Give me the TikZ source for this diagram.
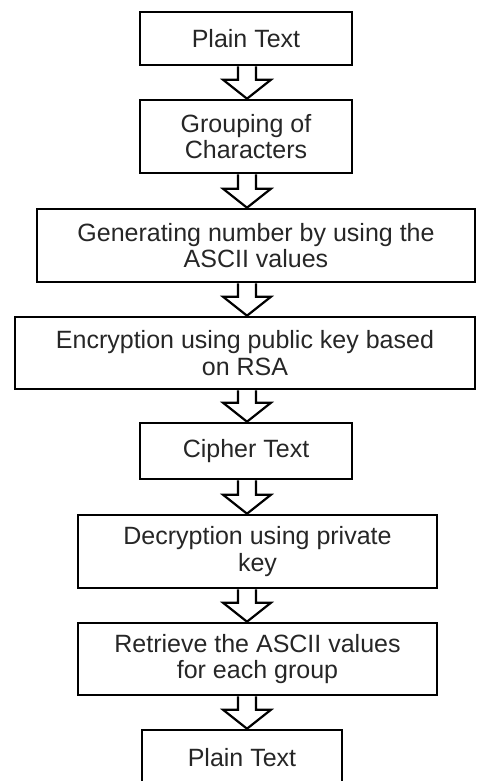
\documentclass[tikz,border=0pt]{standalone}
\usepackage{fontspec}
\setmainfont{Liberation Sans}
\usetikzlibrary{calc}
\tikzset{
  flowbox/.style={draw, line width=2.6pt, align=center, inner sep=0pt,
    text=black!85, font=\fontsize{25}{26.5}\selectfont},
  blockarrow/.style={draw, line width=2.2pt, fill=white, line join=miter,
    to path={let \p1=(\tikztostart), \p2=(\tikztotarget) in
      (\x1-9pt,\y1) -- (\x1-9pt,\y2+19pt) -- (\x1-24pt,\y2+19pt) -- (\x1,\y2)
      -- (\x1+24pt,\y2+19pt) -- (\x1+9pt,\y2+19pt) -- (\x1+9pt,\y1)}}
}
\begin{document}
\begin{tikzpicture}[x=1pt,y=-1pt]
\useasboundingbox (0,0) rectangle (477,781);
\coordinate (axis) at (247,0);
%%%%%%%%%%%%%%%%
\node[flowbox, minimum width=212, minimum height=53] (plain) at (246,38.5) {Plain Text};
\node[flowbox, minimum width=212, minimum height=73] (group) at (246,136.5) {Grouping of\\Characters};
\node[flowbox, minimum width=438, minimum height=73] (gen) at (256,245.5) {Generating number by using the\\ASCII values};
\node[flowbox, minimum width=460, minimum height=72] (enc) at (245,353) {Encryption using public key based\\on RSA};
%%%%%%%%%%%%%%%%
\node[flowbox, minimum width=212, minimum height=56] (cipher) at (246,451) {Cipher Text};
\node[flowbox, minimum width=359, minimum height=73] (dec) at (257.5,551.5) {Decryption using private\\key};
\node[flowbox, minimum width=359, minimum height=72] (ret) at (257.5,659) {Retrieve the ASCII values\\for each group};
\node[flowbox, minimum width=200, minimum height=56] (plainb) at (242,758) {Plain Text};
%%%%%%%%%%%%%%%%
\draw[blockarrow] (plain.south -| axis) to (group.north -| axis);
\draw[blockarrow] (group.south -| axis) to (gen.north -| axis);
\draw[blockarrow] (gen.south -| axis) to (enc.north -| axis);
\draw[blockarrow] (enc.south -| axis) to (cipher.north -| axis);
\draw[blockarrow] (cipher.south -| axis) to (dec.north -| axis);
\draw[blockarrow] (dec.south -| axis) to (ret.north -| axis);
\draw[blockarrow] (ret.south -| axis) to (plainb.north -| axis);
\end{tikzpicture}
\end{document}
